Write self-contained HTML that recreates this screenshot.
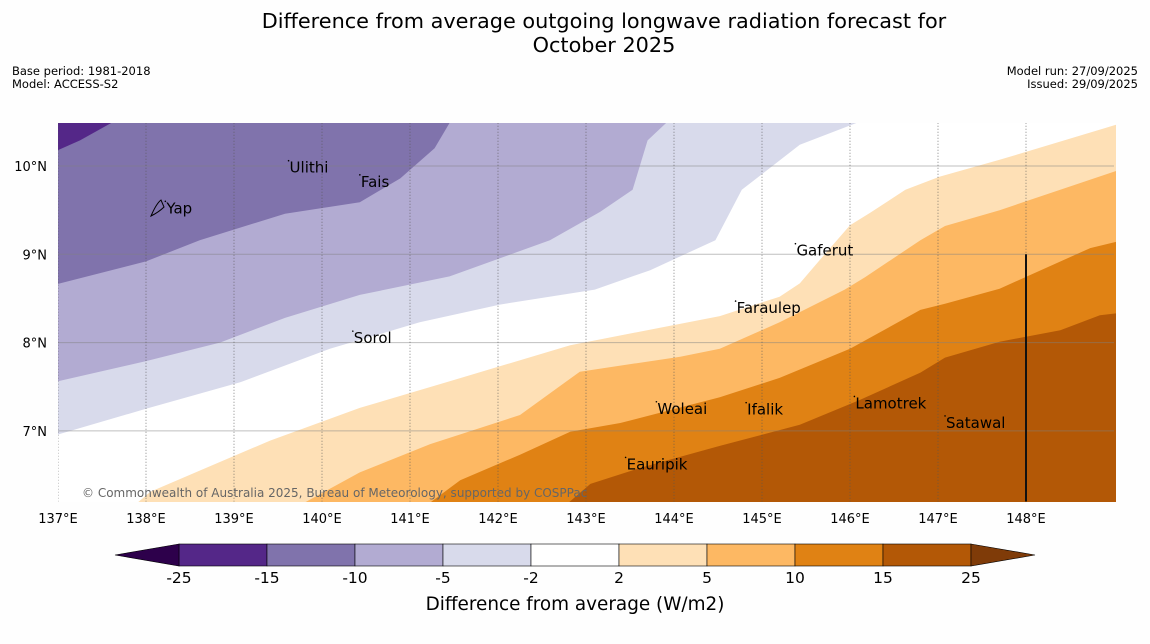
<!DOCTYPE html>
<html><head><meta charset="utf-8">
<style>
body{margin:0;background:#fff;font-family:"Liberation Sans","DejaVu Sans",sans-serif;}
svg{display:block}
</style></head>
<body>
<svg id="chart" width="1150" height="644" viewBox="0 0 1150 644" xmlns="http://www.w3.org/2000/svg" font-family="DejaVu Sans, Liberation Sans, sans-serif">
<rect width="1150" height="644" fill="#fefefe"/>
<text x="604" y="28" font-size="20.8" text-anchor="middle" fill="#000">Difference from average outgoing longwave radiation forecast for</text>
<text x="604" y="52" font-size="20.8" text-anchor="middle" fill="#000">October 2025</text>
<text x="12" y="75" font-size="11.5">Base period: 1981-2018</text>
<text x="12" y="88" font-size="11.5">Model: ACCESS-S2</text>
<text x="1138" y="75" font-size="11.5" text-anchor="end">Model run: 27/09/2025</text>
<text x="1138" y="88" font-size="11.5" text-anchor="end">Issued: 29/09/2025</text>
<defs><clipPath id="mapclip"><rect x="58" y="123" width="1058" height="379"/></clipPath></defs>
<g id="map" clip-path="url(#mapclip)"></g>
<g id="axes"></g>
<g id="cbar"></g>
</svg>
<script>
// Axis extents
const lonMin = 137, lonMax = 149, latMin = 6.2, latMax = 10.49;
const lonTicks = [137,138,139,140,141,142,143,144,145,146,147,148];
const latTicks = [7,8,9,10];
// Contour boundaries (lon, lat)
const b0Lon = [137.00,137.25,137.61];
const b0Lat = [10.18,10.29,10.49];
const b1Lon = [137.00,138.00,138.61,139.58,140.43,140.89,141.28,141.51];
const b1Lat = [8.64,8.92,9.16,9.46,9.59,9.86,10.20,10.49];
const b2Lon = [137.00,138.00,138.84,139.58,140.43,141.45,142.59,143.16,143.53,143.70,144.02];
const b2Lat = [7.54,7.79,8.00,8.28,8.54,8.75,9.16,9.48,9.73,10.29,10.49];
const b3Lon = [137.00,138.00,139.07,140.09,141.11,142.02,143.10,143.73,144.47,144.77,145.43,146.34];
const b3Lat = [6.93,7.25,7.55,7.93,8.23,8.43,8.60,8.82,9.16,9.73,10.24,10.49];
const b4Lon = [137.80,138.05,138.61,139.41,140.43,141.68,142.82,144.52,145.20,145.43,145.66,146.00,146.23,146.63,147.02,147.70,149.00];
const b4Lat = [6.19,6.31,6.55,6.89,7.26,7.63,7.97,8.30,8.52,8.67,8.94,9.33,9.47,9.73,9.88,10.07,10.49];
const b5Lon = [139.64,140.43,141.23,142.25,142.93,144.07,144.52,145.20,145.94,146.17,146.80,147.08,147.70,149.00];
const b5Lat = [6.19,6.53,6.85,7.18,7.67,7.84,7.93,8.23,8.60,8.74,9.16,9.32,9.50,9.97];
const b6Lon = [141.11,141.57,142.25,142.82,143.39,144.52,145.20,146.00,146.80,147.08,147.70,148.73,149.00];
const b6Lat = [6.19,6.44,6.73,6.99,7.09,7.38,7.60,7.93,8.37,8.44,8.61,9.07,9.16];
const b7Lon = [142.70,143.05,143.61,144.52,145.43,146.11,146.80,147.08,147.70,148.39,148.84,149.00];
const b7Lat = [6.19,6.40,6.58,6.83,7.07,7.35,7.66,7.83,8.01,8.14,8.31,8.34];
// Colour scale
const levelLabels = ["-25","-15","-10","-5","-2","2","5","10","15","25"];
const levelColors = ["#542788","#8073ac","#b2abd2","#d8daeb","#ffffff","#fee0b6","#fdb863","#e08214","#b35806"];
// Islands
const islandNames = ["Yap","Ulithi","Fais","Sorol","Gaferut","Faraulep","Woleai","Ifalik","Lamotrek","Satawal","Eauripik"];
const islandLon = [138.22,139.62,140.43,140.35,145.38,144.7,143.8,144.82,146.05,147.08,143.45];
const islandLat = [9.6,10.06,9.9,8.13,9.12,8.47,7.33,7.32,7.39,7.17,6.7];
const boundaryLineLon = [148,148];
const boundaryLineLat = [6.2,9.0];

const X = lon => 58 + (lon - lonMin) * 88;
const Y = lat => 166 + (10 - lat) * 88.3;
const NS = "http://www.w3.org/2000/svg";
const map = document.getElementById("map"), axes = document.getElementById("axes"), cbar = document.getElementById("cbar");
function mk(tag, attrs, parent){const e=document.createElementNS(NS,tag);for(const k in attrs)e.setAttribute(k,attrs[k]);parent.appendChild(e);return e;}
function pts(lons,lats){return lons.map((l,i)=>X(l).toFixed(1)+","+Y(lats[i]).toFixed(1));}

// base fill (-15..-10)
let base = mk("rect",{x:X(lonMin),y:Y(latMax+0.1),width:X(lonMax)-X(lonMin),height:Y(latMin-0.1)-Y(latMax+0.1),fill:levelColors[1]},map);


// dark corner
const cornerPts = [X(lonMin-0.1)+","+Y(latMax+0.1), X(lonMin-0.1)+","+Y(b0Lat[0])].concat(pts(b0Lon,b0Lat)).concat([X(b0Lon[b0Lon.length-1])+","+Y(latMax+0.1)]);
let c0 = mk("polygon",{points:cornerPts.join(" "),fill:levelColors[0]},map);


const TR = X(lonMax+0.1)+","+Y(latMax+0.1), BR = X(lonMax+0.1)+","+Y(latMin-0.1), BL = X(lonMin-0.1)+","+Y(latMin-0.1);
const bounds = [[b1Lon,b1Lat,2,true],[b2Lon,b2Lat,3,true],[b3Lon,b3Lat,4,true],[b4Lon,b4Lat,5,false],[b5Lon,b5Lat,6,false],[b6Lon,b6Lat,7,false],[b7Lon,b7Lat,8,false]];
bounds.forEach(([lo,la,ci,top])=>{
  let p = pts(lo,la);
  if(top){p[p.length-1]=X(lo[lo.length-1])+","+Y(latMax+0.1);p=p.concat([TR,BR,BL]);p[0]=X(lonMin-0.1)+","+Y(la[0]);}
  else{p[0]=X(lo[0])+","+Y(latMin-0.1);p[p.length-1]=X(lonMax+0.1)+","+Y(la[la.length-1]);p=p.concat([BR]);}
  const poly = mk("polygon",{points:p.join(" "),fill:levelColors[ci]},map);
  
  
});
// gridlines
latTicks.forEach(l=>{
  const g = mk("line",{x1:X(lonMin),x2:X(lonMax),y1:Y(l),y2:Y(l),stroke:"#808080","stroke-opacity":"0.5","stroke-width":"1"},map);
  
  
});
lonTicks.forEach(l=>{
  const g = mk("line",{x1:X(l),x2:X(l),y1:Y(latMax),y2:Y(latMin),stroke:"#555","stroke-opacity":"0.7","stroke-width":"1","stroke-dasharray":"1,2"},map);
  
  
});
// black boundary line
let bl = mk("line",{x1:X(boundaryLineLon[0]),x2:X(boundaryLineLon[1]),y1:Y(boundaryLineLat[0]),y2:Y(boundaryLineLat[1]),stroke:"#111","stroke-width":"2"},map);


// islands
islandNames.forEach((n,i)=>{
  const d = mk("circle",{cx:X(islandLon[i]),cy:Y(islandLat[i]),r:0.8,fill:"#000"},map);
  
  
  const t = mk("text",{x:X(islandLon[i])+1,y:Y(islandLat[i])+12,"font-size":"15",fill:"#000"},map);
  t.textContent=n;
  
  
});
// Yap outline
let yap = mk("path",{d:"M151,216 C154,209 157,203 161,200 L164,207 C160,211 155,214 151,216 Z",fill:"none",stroke:"#000","stroke-width":"1"},map);


let cp = mk("text",{x:82,y:497,"font-size":"12",fill:"#666"},map);
cp.textContent="© Commonwealth of Australia 2025, Bureau of Meteorology, supported by COSPPac";


// axis labels
lonTicks.forEach(l=>{
  const t = mk("text",{x:X(l),y:523,"font-size":"13","text-anchor":"middle"},axes);
  t.textContent=l+"°E";
  
  
});
latTicks.forEach(l=>{
  const t = mk("text",{x:47,y:Y(l)+5,"font-size":"13","text-anchor":"end"},axes);
  t.textContent=l+"°N";
  
  
});
// colorbar
const cbX0 = 179, cbW = 88, cbY = 544, cbH = 22;
levelColors.forEach((c,i)=>{
  const r = mk("rect",{x:cbX0+i*cbW,y:cbY,width:cbW,height:cbH,fill:c,stroke:"#000","stroke-width":"0.6"},cbar);
  
  
});
let la = mk("polygon",{points:`${cbX0},${cbY} 115,${cbY+cbH/2} ${cbX0},${cbY+cbH}`,fill:"#2d004b",stroke:"#000","stroke-width":"0.6"},cbar);


const endX = cbX0+levelColors.length*cbW;
let ra = mk("polygon",{points:`${endX},${cbY} 1035,${cbY+cbH/2} ${endX},${cbY+cbH}`,fill:"#7f3b08",stroke:"#000","stroke-width":"0.6"},cbar);


levelLabels.forEach((s,i)=>{
  const t = mk("text",{x:cbX0+i*cbW,y:583,"font-size":"15.5","text-anchor":"middle"},cbar);
  t.textContent=s;
  
  
});
let ct = mk("text",{x:575,y:610,"font-size":"18.4","text-anchor":"middle"},cbar);
ct.textContent="Difference from average (W/m2)";


</script>
</body></html>
